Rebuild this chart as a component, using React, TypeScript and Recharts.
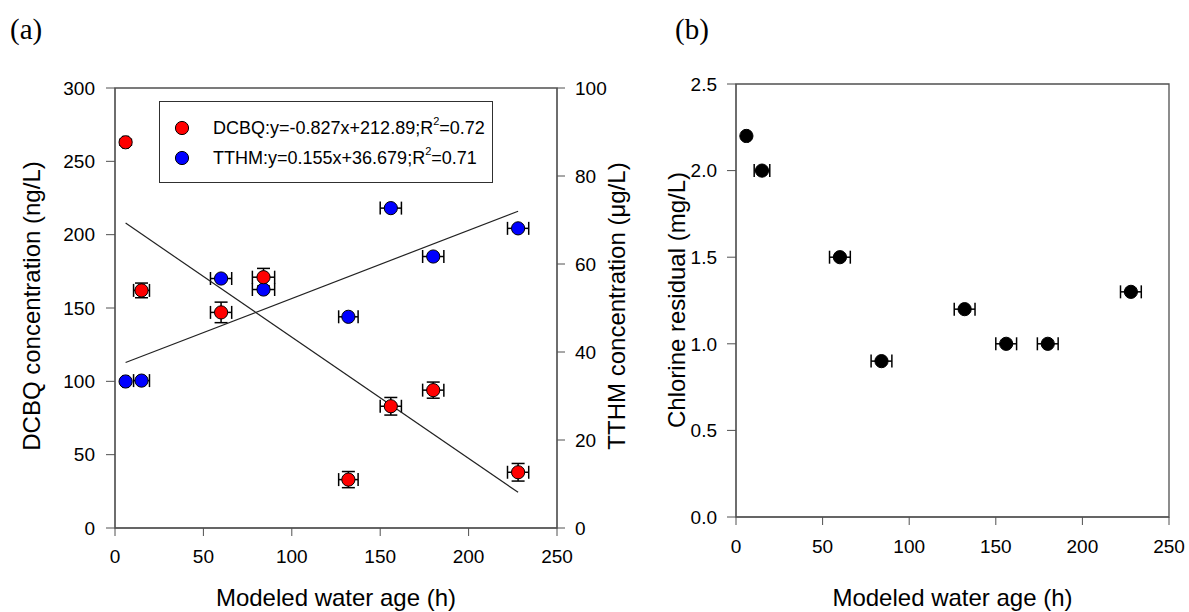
import React from 'react';
import { ScatterChart, Scatter, XAxis, YAxis, ErrorBar, ReferenceArea, Legend, Label } from 'recharts';

// ---------- data ----------
const waterAge = [6, 15, 60, 84, 132, 156, 180, 228];
const waterAgeErr = [1.5, 4.5, 6, 6.3, 5.5, 6, 6, 6];
const dcbq = [263, 162, 147, 171, 33, 83, 94, 38];
const dcbqErr = [2, 5, 7, 6, 5.5, 6, 5.5, 6];
const tthm = [33.3, 33.5, 56.7, 54.2, 48.0, 72.7, 61.7, 68.1];
const chlorine = [2.2, 2.0, 1.5, 0.9, 1.2, 1.0, 1.0, 1.3];
const chlorineAgeErr = [1, 4.5, 6, 6, 6, 6, 6, 6];

const dcbqFitX = [6, 228];
const dcbqFitY = [207.9, 24.3];
const tthmFitX = [6, 228];
const tthmFitY = [37.6, 72.0];

const xTicks = [0, 50, 100, 150, 200, 250];
const dcbqTicks = [0, 50, 100, 150, 200, 250, 300];
const tthmTicks = [0, 20, 40, 60, 80, 100];
const chlorineTicks = [0, 0.5, 1.0, 1.5, 2.0, 2.5];

const legendNames = ['DCBQ', 'TTHM'];
const legendEquations = ['y=-0.827x+212.89', 'y=0.155x+36.679'];
const legendR2 = ['0.72', '0.71'];
const legendColors = ['#ff0000', '#0000ff'];

const xTitle = 'Modeled water age (h)';
const dcbqTitle = 'DCBQ concentration (ng/L)';
const tthmTitle = 'TTHM concentration (\u03bcg/L)';
const chlorineTitle = 'Chlorine residual (mg/L)';

// ---------- derived tables ----------
const dcbqData = waterAge.map((x, i) => ({ x, y: dcbq[i], ex: waterAgeErr[i], ey: dcbqErr[i] }));
const tthmData = waterAge.map((x, i) => ({ x, y: tthm[i], ex: waterAgeErr[i] }));
const chlorineData = waterAge.map((x, i) => ({ x, y: chlorine[i], ex: chlorineAgeErr[i] }));
const dcbqFit = dcbqFitX.map((x, i) => ({ x, y: dcbqFitY[i] }));
const tthmFit = tthmFitX.map((x, i) => ({ x, y: tthmFitY[i] }));

const FONT = "Arial, 'Liberation Sans', sans-serif";
const AXIS = '#505050';
const tickStyle = { fill: '#000', fontSize: 19, fontFamily: FONT };

const dot = (fill: string) => (props: any) =>
  <circle cx={props.cx} cy={props.cy} r={6.6} fill={fill} stroke="#000" strokeWidth={1} />;
const noDot = () => <g />;

const LegendBox = () => (
  <div style={{ position: 'relative', boxSizing: 'border-box', width: 334, height: 82, border: '1.3px solid #303030', background: '#fff', fontFamily: FONT, fontSize: 18, color: '#000' }}>
    {legendNames.map((n, i) => (
      <div key={n} style={{ position: 'absolute', left: 0, top: 11 + i * 30, height: 30, display: 'flex', alignItems: 'center', whiteSpace: 'nowrap' }}>
        <svg width={44} height={30} style={{ marginLeft: 8 }}>
          <circle cx={14} cy={15} r={6.6} fill={legendColors[i]} stroke="#000" strokeWidth={1} />
        </svg>
        <span style={{ marginLeft: 1 }}>{n}:{legendEquations[i]};R<sup style={{ fontSize: 11, verticalAlign: 'top', position: 'relative', top: -3 }}>2</sup>={legendR2[i]}</span>
      </div>
    ))}
  </div>
);

const PanelLabel = ({ left, text }: { left: number; text: string }) => (
  <svg width={60} height={50} style={{ position: 'absolute', left, top: 0 }}>
    <text x={0} y={39} fontFamily="'Times New Roman', 'Liberation Serif', serif" fontSize={29} fill="#000">{text}</text>
  </svg>
);

export default function App() {
  return (
    <div style={{ position: 'absolute', left: 0, top: 0, width: 1189, height: 612, background: '#fff', overflow: 'hidden' }}>
      <PanelLabel left={10} text="(a)" />
      <PanelLabel left={675} text="(b)" />

      <div style={{ position: 'absolute', left: 0, top: 0 }}>
        <ScatterChart width={650} height={612} margin={{ top: 88, right: 43, bottom: 44, left: 45 }}>
          <XAxis type="number" dataKey="x" domain={[0, 250]} ticks={xTicks} height={40}
            stroke={AXIS} tickSize={8} tickMargin={14} tick={tickStyle} allowDataOverflow>
            <Label content={() => <text x={336} y={606} textAnchor="middle" fontFamily={FONT} fontSize={24} fill="#000">{xTitle}</text>} />
          </XAxis>
          <YAxis yAxisId="left" type="number" dataKey="y" domain={[0, 300]} ticks={dcbqTicks} width={70}
            stroke={AXIS} tickSize={9} tickMargin={11} tick={tickStyle} allowDataOverflow>
            <Label content={() => <text x={40} y={306} transform="rotate(-90 40 306)" textAnchor="middle" fontFamily={FONT} fontSize={24} fill="#000">{dcbqTitle}</text>} />
          </YAxis>
          <YAxis yAxisId="right" orientation="right" type="number" dataKey="y" domain={[0, 100]} ticks={tthmTicks} width={50}
            stroke={AXIS} tickSize={8} tickMargin={10} tick={{ ...tickStyle, textAnchor: 'start' }} allowDataOverflow>
            <Label content={() => <text x={625} y={306} transform="rotate(-90 625 306)" textAnchor="middle" fontFamily={FONT} fontSize={24} fill="#000">{tthmTitle}</text>} />
          </YAxis>
          <ReferenceArea yAxisId="left" x1={0} x2={250} y1={0} y2={300} fill="none" stroke={AXIS} strokeWidth={1.3} />
          <Scatter yAxisId="left" data={dcbqFit} line={{ stroke: '#222', strokeWidth: 1.2 }} shape={noDot} isAnimationActive={false} legendType="none" />
          <Scatter yAxisId="right" data={tthmFit} line={{ stroke: '#222', strokeWidth: 1.2 }} shape={noDot} isAnimationActive={false} legendType="none" />
          <Scatter yAxisId="right" data={tthmData} shape={dot('#0000ff')} isAnimationActive={false}>
            <ErrorBar dataKey="ex" direction="x" width={6.5} stroke="#000" strokeWidth={1.5} />
          </Scatter>
          <Scatter yAxisId="left" data={dcbqData} shape={dot('#ff0000')} isAnimationActive={false}>
            <ErrorBar dataKey="ex" direction="x" width={6.5} stroke="#000" strokeWidth={1.5} />
            <ErrorBar dataKey="ey" direction="y" width={6.5} stroke="#000" strokeWidth={1.5} />
          </Scatter>
          <Legend layout="vertical" align="center" verticalAlign="middle"
            wrapperStyle={{ left: 159, top: 101, width: 334, height: 82 }} content={() => <LegendBox />} />
        </ScatterChart>
      </div>

      <div style={{ position: 'absolute', left: 650, top: 0 }}>
        <ScatterChart width={539} height={612} margin={{ top: 84, right: 20, bottom: 55, left: 26 }}>
          <XAxis type="number" dataKey="x" domain={[0, 250]} ticks={xTicks} height={40}
            stroke={AXIS} tickSize={8} tickMargin={15} tick={tickStyle} allowDataOverflow>
            <Label content={() => <text x={302.5} y={606} textAnchor="middle" fontFamily={FONT} fontSize={24} fill="#000">{xTitle}</text>} />
          </XAxis>
          <YAxis type="number" dataKey="y" domain={[0, 2.5]} ticks={chlorineTicks} width={60}
            stroke={AXIS} tickSize={9} tickMargin={10} tick={tickStyle} tickFormatter={(v: number) => v.toFixed(1)} allowDataOverflow>
            <Label content={() => <text x={35} y={300} transform="rotate(-90 35 300)" textAnchor="middle" fontFamily={FONT} fontSize={24} fill="#000">{chlorineTitle}</text>} />
          </YAxis>
          <ReferenceArea x1={0} x2={250} y1={0} y2={2.5} fill="none" stroke={AXIS} strokeWidth={1.3} />
          <Scatter data={chlorineData} shape={dot('#000')} isAnimationActive={false}>
            <ErrorBar dataKey="ex" direction="x" width={6.5} stroke="#000" strokeWidth={1.5} />
          </Scatter>
        </ScatterChart>
      </div>
    </div>
  );
}
